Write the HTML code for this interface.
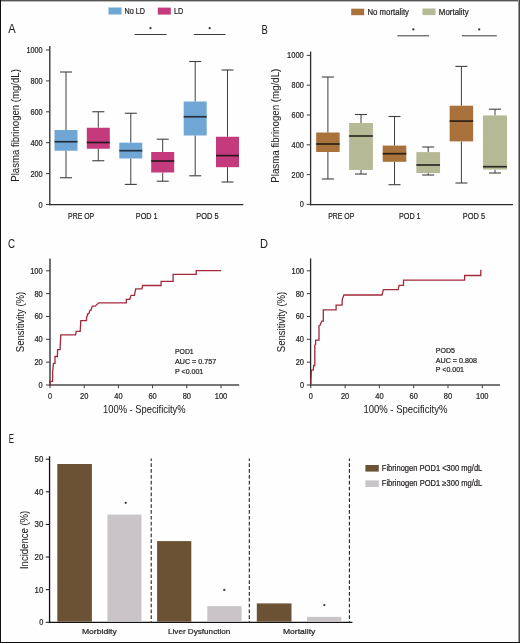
<!DOCTYPE html>
<html><head><meta charset="utf-8"><style>
html,body{margin:0;padding:0;background:#fff;}
body{width:520px;height:643px;overflow:hidden;position:relative;}
svg{position:absolute;left:0;top:0;display:block;will-change:transform;}
text{font-family:"Liberation Sans", sans-serif;stroke:#231f20;stroke-width:0.22px;}
</style></head><body>
<svg width="520" height="643" viewBox="0 0 520 643">
<rect x="0" y="0" width="520" height="643" fill="#fefefe"/>
<rect x="108.5" y="7.5" width="13" height="7" fill="#6fa6d4"/>
<text x="124.6" y="14.3" font-size="8.4" text-anchor="start" fill="#231f20" textLength="20.5" lengthAdjust="spacingAndGlyphs">No LD</text>
<rect x="157.8" y="7.6" width="13" height="7" fill="#c43a7d"/>
<text x="173.9" y="14.3" font-size="8.4" text-anchor="start" fill="#231f20" textLength="9.3" lengthAdjust="spacingAndGlyphs">LD</text>
<line x1="134.6" y1="34.5" x2="166.6" y2="34.5" stroke="#3a3a3a" stroke-width="1"/>
<circle cx="150.5" cy="28.2" r="1.15" fill="#3a3a3a"/>
<line x1="193.8" y1="34.5" x2="225.5" y2="34.5" stroke="#3a3a3a" stroke-width="1"/>
<circle cx="209.7" cy="28.2" r="1.15" fill="#3a3a3a"/>
<text x="8.2" y="33.3" font-size="12" text-anchor="start" fill="#231f20" textLength="7.4" lengthAdjust="spacingAndGlyphs" style="stroke-width:0.06px">A</text>
<line x1="49.8" y1="46" x2="49.8" y2="205.2" stroke="#2b2b2b" stroke-width="1.3"/>
<line x1="49.15" y1="204.6" x2="243.3" y2="204.6" stroke="#2b2b2b" stroke-width="1.3"/>
<line x1="46" y1="204.5" x2="50" y2="204.5" stroke="#3a3a3a" stroke-width="1"/>
<text x="42.6" y="207.5" font-size="8.4" text-anchor="end" fill="#231f20" textLength="4.1" lengthAdjust="spacingAndGlyphs">0</text>
<line x1="46" y1="173.6" x2="50" y2="173.6" stroke="#3a3a3a" stroke-width="1"/>
<text x="42.6" y="176.6" font-size="8.4" text-anchor="end" fill="#231f20" textLength="12.2" lengthAdjust="spacingAndGlyphs">200</text>
<line x1="46" y1="142.7" x2="50" y2="142.7" stroke="#3a3a3a" stroke-width="1"/>
<text x="42.6" y="145.7" font-size="8.4" text-anchor="end" fill="#231f20" textLength="12.2" lengthAdjust="spacingAndGlyphs">400</text>
<line x1="46" y1="111.80000000000001" x2="50" y2="111.80000000000001" stroke="#3a3a3a" stroke-width="1"/>
<text x="42.6" y="114.80000000000001" font-size="8.4" text-anchor="end" fill="#231f20" textLength="12.2" lengthAdjust="spacingAndGlyphs">600</text>
<line x1="46" y1="80.9" x2="50" y2="80.9" stroke="#3a3a3a" stroke-width="1"/>
<text x="42.6" y="83.9" font-size="8.4" text-anchor="end" fill="#231f20" textLength="12.2" lengthAdjust="spacingAndGlyphs">800</text>
<line x1="46" y1="50.0" x2="50" y2="50.0" stroke="#3a3a3a" stroke-width="1"/>
<text x="42.6" y="53.0" font-size="8.4" text-anchor="end" fill="#231f20" textLength="16.2" lengthAdjust="spacingAndGlyphs">1000</text>
<line x1="66.0" y1="72" x2="66.0" y2="130" stroke="#3f3f3f" stroke-width="1"/>
<line x1="66.0" y1="150.75" x2="66.0" y2="177.75" stroke="#3f3f3f" stroke-width="1"/>
<line x1="60.0" y1="72" x2="72.0" y2="72" stroke="#3f3f3f" stroke-width="1.1"/>
<line x1="60.0" y1="177.75" x2="72.0" y2="177.75" stroke="#3f3f3f" stroke-width="1.1"/>
<rect x="54.5" y="130" width="23" height="20.75" fill="#6fa6d4"/>
<line x1="54.5" y1="141.75" x2="77.5" y2="141.75" stroke="#25303c" stroke-width="1.7"/>
<line x1="98.3" y1="111.75" x2="98.3" y2="127.75" stroke="#3f3f3f" stroke-width="1"/>
<line x1="98.3" y1="148.75" x2="98.3" y2="160.75" stroke="#3f3f3f" stroke-width="1"/>
<line x1="92.3" y1="111.75" x2="104.3" y2="111.75" stroke="#3f3f3f" stroke-width="1.1"/>
<line x1="92.3" y1="160.75" x2="104.3" y2="160.75" stroke="#3f3f3f" stroke-width="1.1"/>
<rect x="86.8" y="127.75" width="23" height="21.0" fill="#c43a7d"/>
<line x1="86.8" y1="142.5" x2="109.8" y2="142.5" stroke="#2a1820" stroke-width="1.7"/>
<line x1="130.8" y1="113.25" x2="130.8" y2="142.65" stroke="#3f3f3f" stroke-width="1"/>
<line x1="130.8" y1="158.5" x2="130.8" y2="184.4" stroke="#3f3f3f" stroke-width="1"/>
<line x1="124.80000000000001" y1="113.25" x2="136.8" y2="113.25" stroke="#3f3f3f" stroke-width="1.1"/>
<line x1="124.80000000000001" y1="184.4" x2="136.8" y2="184.4" stroke="#3f3f3f" stroke-width="1.1"/>
<rect x="119.30000000000001" y="142.65" width="23" height="15.849999999999994" fill="#6fa6d4"/>
<line x1="119.30000000000001" y1="150.7" x2="142.3" y2="150.7" stroke="#25303c" stroke-width="1.7"/>
<line x1="162.7" y1="139.2" x2="162.7" y2="152" stroke="#3f3f3f" stroke-width="1"/>
<line x1="162.7" y1="172.5" x2="162.7" y2="181.2" stroke="#3f3f3f" stroke-width="1"/>
<line x1="156.7" y1="139.2" x2="168.7" y2="139.2" stroke="#3f3f3f" stroke-width="1.1"/>
<line x1="156.7" y1="181.2" x2="168.7" y2="181.2" stroke="#3f3f3f" stroke-width="1.1"/>
<rect x="151.2" y="152" width="23" height="20.5" fill="#c43a7d"/>
<line x1="151.2" y1="161" x2="174.2" y2="161" stroke="#2a1820" stroke-width="1.7"/>
<line x1="195.2" y1="61.5" x2="195.2" y2="101.5" stroke="#3f3f3f" stroke-width="1"/>
<line x1="195.2" y1="135.5" x2="195.2" y2="175.8" stroke="#3f3f3f" stroke-width="1"/>
<line x1="189.2" y1="61.5" x2="201.2" y2="61.5" stroke="#3f3f3f" stroke-width="1.1"/>
<line x1="189.2" y1="175.8" x2="201.2" y2="175.8" stroke="#3f3f3f" stroke-width="1.1"/>
<rect x="183.7" y="101.5" width="23" height="34.0" fill="#6fa6d4"/>
<line x1="183.7" y1="116.75" x2="206.7" y2="116.75" stroke="#25303c" stroke-width="1.7"/>
<line x1="227.5" y1="70" x2="227.5" y2="136.75" stroke="#3f3f3f" stroke-width="1"/>
<line x1="227.5" y1="167.2" x2="227.5" y2="182" stroke="#3f3f3f" stroke-width="1"/>
<line x1="221.5" y1="70" x2="233.5" y2="70" stroke="#3f3f3f" stroke-width="1.1"/>
<line x1="221.5" y1="182" x2="233.5" y2="182" stroke="#3f3f3f" stroke-width="1.1"/>
<rect x="216.0" y="136.75" width="23" height="30.44999999999999" fill="#c43a7d"/>
<line x1="216.0" y1="155.6" x2="239.0" y2="155.6" stroke="#2a1820" stroke-width="1.7"/>
<text x="81.1" y="219" font-size="8.2" text-anchor="middle" fill="#231f20" textLength="26" lengthAdjust="spacingAndGlyphs">PRE OP</text>
<text x="146.7" y="219" font-size="8.2" text-anchor="middle" fill="#231f20" textLength="21.7" lengthAdjust="spacingAndGlyphs">POD 1</text>
<text x="207.4" y="219" font-size="8.2" text-anchor="middle" fill="#231f20" textLength="22.2" lengthAdjust="spacingAndGlyphs">POD 5</text>
<text transform="translate(18.6,125.4) rotate(-90)" x="0" y="0" font-size="10.8" text-anchor="middle" fill="#231f20" textLength="112.6" lengthAdjust="spacingAndGlyphs" style="stroke-width:0.06px">Plasma fibrinogen (mg/dL)</text>
<rect x="351.2" y="8.7" width="13" height="6.5" fill="#a9713c"/>
<text x="367.5" y="14.5" font-size="8.4" text-anchor="start" fill="#231f20" textLength="41.5" lengthAdjust="spacingAndGlyphs">No mortality</text>
<rect x="422.5" y="8.5" width="13" height="6.6" fill="#b6b995"/>
<text x="438.8" y="14.5" font-size="8.4" text-anchor="start" fill="#231f20" textLength="30" lengthAdjust="spacingAndGlyphs">Mortality</text>
<line x1="397.3" y1="35.8" x2="429.0" y2="35.8" stroke="#3a3a3a" stroke-width="1"/>
<circle cx="413.4" cy="29.4" r="1.15" fill="#3a3a3a"/>
<line x1="461.8" y1="35.8" x2="496.8" y2="35.8" stroke="#3a3a3a" stroke-width="1"/>
<circle cx="479.2" cy="29.4" r="1.15" fill="#3a3a3a"/>
<text x="261.6" y="34.1" font-size="12" text-anchor="start" fill="#231f20" textLength="6.3" lengthAdjust="spacingAndGlyphs" style="stroke-width:0.06px">B</text>
<line x1="310.6" y1="51.5" x2="310.6" y2="205.3" stroke="#2b2b2b" stroke-width="1.3"/>
<line x1="309.95" y1="204.7" x2="512.9" y2="204.7" stroke="#2b2b2b" stroke-width="1.3"/>
<line x1="306.7" y1="204.4" x2="310.7" y2="204.4" stroke="#3a3a3a" stroke-width="1"/>
<text x="303.8" y="207.4" font-size="8.4" text-anchor="end" fill="#231f20" textLength="4.1" lengthAdjust="spacingAndGlyphs">0</text>
<line x1="306.7" y1="174.6" x2="310.7" y2="174.6" stroke="#3a3a3a" stroke-width="1"/>
<text x="303.8" y="177.6" font-size="8.4" text-anchor="end" fill="#231f20" textLength="12.2" lengthAdjust="spacingAndGlyphs">200</text>
<line x1="306.7" y1="144.8" x2="310.7" y2="144.8" stroke="#3a3a3a" stroke-width="1"/>
<text x="303.8" y="147.8" font-size="8.4" text-anchor="end" fill="#231f20" textLength="12.2" lengthAdjust="spacingAndGlyphs">400</text>
<line x1="306.7" y1="115.0" x2="310.7" y2="115.0" stroke="#3a3a3a" stroke-width="1"/>
<text x="303.8" y="118.0" font-size="8.4" text-anchor="end" fill="#231f20" textLength="12.2" lengthAdjust="spacingAndGlyphs">600</text>
<line x1="306.7" y1="85.2" x2="310.7" y2="85.2" stroke="#3a3a3a" stroke-width="1"/>
<text x="303.8" y="88.2" font-size="8.4" text-anchor="end" fill="#231f20" textLength="12.2" lengthAdjust="spacingAndGlyphs">800</text>
<line x1="306.7" y1="55.400000000000006" x2="310.7" y2="55.400000000000006" stroke="#3a3a3a" stroke-width="1"/>
<text x="303.8" y="58.400000000000006" font-size="8.4" text-anchor="end" fill="#231f20" textLength="16.7" lengthAdjust="spacingAndGlyphs">1000</text>
<line x1="327.9" y1="77" x2="327.9" y2="132.5" stroke="#3f3f3f" stroke-width="1"/>
<line x1="327.9" y1="152" x2="327.9" y2="179" stroke="#3f3f3f" stroke-width="1"/>
<line x1="321.9" y1="77" x2="333.9" y2="77" stroke="#3f3f3f" stroke-width="1.1"/>
<line x1="321.9" y1="179" x2="333.9" y2="179" stroke="#3f3f3f" stroke-width="1.1"/>
<rect x="316.15" y="132.5" width="23.5" height="19.5" fill="#a9713c"/>
<line x1="316.15" y1="144" x2="339.65" y2="144" stroke="#2c2016" stroke-width="1.7"/>
<line x1="361.0" y1="114.5" x2="361.0" y2="123" stroke="#3f3f3f" stroke-width="1"/>
<line x1="361.0" y1="170" x2="361.0" y2="174" stroke="#3f3f3f" stroke-width="1"/>
<line x1="355.0" y1="114.5" x2="367.0" y2="114.5" stroke="#3f3f3f" stroke-width="1.1"/>
<line x1="355.0" y1="174" x2="367.0" y2="174" stroke="#3f3f3f" stroke-width="1.1"/>
<rect x="349.1" y="123" width="23.8" height="47" fill="#b6b995"/>
<line x1="349.1" y1="136" x2="372.9" y2="136" stroke="#2a2a22" stroke-width="1.7"/>
<line x1="394.5" y1="116.5" x2="394.5" y2="145.6" stroke="#3f3f3f" stroke-width="1"/>
<line x1="394.5" y1="161.8" x2="394.5" y2="184.7" stroke="#3f3f3f" stroke-width="1"/>
<line x1="388.5" y1="116.5" x2="400.5" y2="116.5" stroke="#3f3f3f" stroke-width="1.1"/>
<line x1="388.5" y1="184.7" x2="400.5" y2="184.7" stroke="#3f3f3f" stroke-width="1.1"/>
<rect x="382.7" y="145.6" width="23.6" height="16.200000000000017" fill="#a9713c"/>
<line x1="382.7" y1="153.7" x2="406.3" y2="153.7" stroke="#2c2016" stroke-width="1.7"/>
<line x1="428.2" y1="147" x2="428.2" y2="152.1" stroke="#3f3f3f" stroke-width="1"/>
<line x1="428.2" y1="173.1" x2="428.2" y2="175" stroke="#3f3f3f" stroke-width="1"/>
<line x1="422.2" y1="147" x2="434.2" y2="147" stroke="#3f3f3f" stroke-width="1.1"/>
<line x1="422.2" y1="175" x2="434.2" y2="175" stroke="#3f3f3f" stroke-width="1.1"/>
<rect x="416.34999999999997" y="152.1" width="23.7" height="21.0" fill="#b6b995"/>
<line x1="416.34999999999997" y1="165" x2="440.05" y2="165" stroke="#2a2a22" stroke-width="1.7"/>
<line x1="461.4" y1="66.4" x2="461.4" y2="105.7" stroke="#3f3f3f" stroke-width="1"/>
<line x1="461.4" y1="141.4" x2="461.4" y2="183" stroke="#3f3f3f" stroke-width="1"/>
<line x1="455.4" y1="66.4" x2="467.4" y2="66.4" stroke="#3f3f3f" stroke-width="1.1"/>
<line x1="455.4" y1="183" x2="467.4" y2="183" stroke="#3f3f3f" stroke-width="1.1"/>
<rect x="449.65" y="105.7" width="23.5" height="35.7" fill="#a9713c"/>
<line x1="449.65" y1="121.1" x2="473.15" y2="121.1" stroke="#2c2016" stroke-width="1.7"/>
<line x1="495.0" y1="109.2" x2="495.0" y2="115.4" stroke="#3f3f3f" stroke-width="1"/>
<line x1="495.0" y1="169.6" x2="495.0" y2="173" stroke="#3f3f3f" stroke-width="1"/>
<line x1="489.0" y1="109.2" x2="501.0" y2="109.2" stroke="#3f3f3f" stroke-width="1.1"/>
<line x1="489.0" y1="173" x2="501.0" y2="173" stroke="#3f3f3f" stroke-width="1.1"/>
<rect x="483.0" y="115.4" width="24" height="54.19999999999999" fill="#b6b995"/>
<line x1="483.0" y1="166.7" x2="507.0" y2="166.7" stroke="#2a2a22" stroke-width="1.7"/>
<text x="341.25" y="219" font-size="8.2" text-anchor="middle" fill="#231f20" textLength="26" lengthAdjust="spacingAndGlyphs">PRE OP</text>
<text x="409.8" y="219" font-size="8.2" text-anchor="middle" fill="#231f20" textLength="21.7" lengthAdjust="spacingAndGlyphs">POD 1</text>
<text x="473.9" y="219" font-size="8.2" text-anchor="middle" fill="#231f20" textLength="22.2" lengthAdjust="spacingAndGlyphs">POD 5</text>
<text transform="translate(279.2,125.7) rotate(-90)" x="0" y="0" font-size="10.6" text-anchor="middle" fill="#231f20" textLength="114" lengthAdjust="spacingAndGlyphs" style="stroke-width:0.06px">Plasma fibrinogen (mg/dL)</text>
<text x="8.1" y="248.3" font-size="12" text-anchor="start" fill="#231f20" textLength="7.0" lengthAdjust="spacingAndGlyphs" style="stroke-width:0.06px">C</text>
<line x1="50" y1="258.5" x2="50" y2="385.6" stroke="#262626" stroke-width="1.3"/>
<line x1="49.35" y1="385.0" x2="239.2" y2="385.0" stroke="#4a4a4a" stroke-width="1.4"/>
<line x1="46" y1="385.0" x2="50" y2="385.0" stroke="#3a3a3a" stroke-width="1"/>
<text x="42.7" y="387.9" font-size="8.2" text-anchor="end" fill="#231f20" textLength="4.1" lengthAdjust="spacingAndGlyphs">0</text>
<line x1="46" y1="362.16" x2="50" y2="362.16" stroke="#3a3a3a" stroke-width="1"/>
<text x="42.7" y="365.06" font-size="8.2" text-anchor="end" fill="#231f20" textLength="8.3" lengthAdjust="spacingAndGlyphs">20</text>
<line x1="46" y1="339.32" x2="50" y2="339.32" stroke="#3a3a3a" stroke-width="1"/>
<text x="42.7" y="342.21999999999997" font-size="8.2" text-anchor="end" fill="#231f20" textLength="8.3" lengthAdjust="spacingAndGlyphs">40</text>
<line x1="46" y1="316.48" x2="50" y2="316.48" stroke="#3a3a3a" stroke-width="1"/>
<text x="42.7" y="319.38" font-size="8.2" text-anchor="end" fill="#231f20" textLength="8.3" lengthAdjust="spacingAndGlyphs">60</text>
<line x1="46" y1="293.64" x2="50" y2="293.64" stroke="#3a3a3a" stroke-width="1"/>
<text x="42.7" y="296.53999999999996" font-size="8.2" text-anchor="end" fill="#231f20" textLength="8.3" lengthAdjust="spacingAndGlyphs">80</text>
<line x1="46" y1="270.8" x2="50" y2="270.8" stroke="#3a3a3a" stroke-width="1"/>
<text x="42.7" y="273.7" font-size="8.2" text-anchor="end" fill="#231f20" textLength="12.5" lengthAdjust="spacingAndGlyphs">100</text>
<line x1="50.0" y1="385.0" x2="50.0" y2="388.2" stroke="#3a3a3a" stroke-width="1"/>
<text x="50.0" y="399.0" font-size="8.2" text-anchor="middle" fill="#231f20" textLength="4.1" lengthAdjust="spacingAndGlyphs">0</text>
<line x1="84.2" y1="385.0" x2="84.2" y2="388.2" stroke="#3a3a3a" stroke-width="1"/>
<text x="84.2" y="399.0" font-size="8.2" text-anchor="middle" fill="#231f20" textLength="8.3" lengthAdjust="spacingAndGlyphs">20</text>
<line x1="118.4" y1="385.0" x2="118.4" y2="388.2" stroke="#3a3a3a" stroke-width="1"/>
<text x="118.4" y="399.0" font-size="8.2" text-anchor="middle" fill="#231f20" textLength="8.3" lengthAdjust="spacingAndGlyphs">40</text>
<line x1="152.60000000000002" y1="385.0" x2="152.60000000000002" y2="388.2" stroke="#3a3a3a" stroke-width="1"/>
<text x="152.60000000000002" y="399.0" font-size="8.2" text-anchor="middle" fill="#231f20" textLength="8.3" lengthAdjust="spacingAndGlyphs">60</text>
<line x1="186.8" y1="385.0" x2="186.8" y2="388.2" stroke="#3a3a3a" stroke-width="1"/>
<text x="186.8" y="399.0" font-size="8.2" text-anchor="middle" fill="#231f20" textLength="8.3" lengthAdjust="spacingAndGlyphs">80</text>
<line x1="221.0" y1="385.0" x2="221.0" y2="388.2" stroke="#3a3a3a" stroke-width="1"/>
<text x="221.0" y="399.0" font-size="8.2" text-anchor="middle" fill="#231f20" textLength="12.5" lengthAdjust="spacingAndGlyphs">100</text>
<path d="M50.1,385 V381.4 H52.6 V371.9 L53.2,366.6 L53.4,363.4 H55 V356.5 H57.4 L57.6,349.6 H60.1 V347.5 L60.8,334.8 H75.6 L76.2,331.3 H80.2 L80.8,320.6 H86.5 V317.7 L87.9,313.7 H88.8 L90,310.2 H90.9 L92.3,306.2 H95.2 L98.7,302.9 H126.3 V299.3 H129.8 L131,295.3 H134.4 L135.7,288.9 H141.9 L142.6,285.5 H161.1 V281.3 H173.1 V274.4 H196.2 V270.6 H221.1" fill="none" stroke="#a3283a" stroke-width="1.3" stroke-linejoin="miter"/>
<text x="175" y="354.4" font-size="7.4" text-anchor="start" fill="#231f20" textLength="18.7" lengthAdjust="spacingAndGlyphs">POD1</text>
<text x="175" y="364.0" font-size="7.4" text-anchor="start" fill="#231f20" textLength="41.2" lengthAdjust="spacingAndGlyphs">AUC = 0.757</text>
<text x="175" y="373.7" font-size="7.4" text-anchor="start" fill="#231f20" textLength="28.3" lengthAdjust="spacingAndGlyphs">P &lt;0.001</text>
<text x="103.1" y="413.3" font-size="10.4" text-anchor="start" fill="#231f20" textLength="82.5" lengthAdjust="spacingAndGlyphs" style="stroke-width:0.06px">100% - Specificity%</text>
<text transform="translate(23.7,322.0) rotate(-90)" x="0" y="0" font-size="10.6" text-anchor="middle" fill="#231f20" textLength="60.4" lengthAdjust="spacingAndGlyphs" style="stroke-width:0.06px">Sensitivity (%)</text>
<text x="259.9" y="247.8" font-size="12" text-anchor="start" fill="#231f20" textLength="8.0" lengthAdjust="spacingAndGlyphs" style="stroke-width:0.06px">D</text>
<line x1="310.6" y1="258.5" x2="310.6" y2="385.6" stroke="#262626" stroke-width="1.3"/>
<line x1="309.95" y1="385.0" x2="500" y2="385.0" stroke="#4a4a4a" stroke-width="1.4"/>
<line x1="306.8" y1="385.0" x2="310.8" y2="385.0" stroke="#3a3a3a" stroke-width="1"/>
<text x="304" y="387.9" font-size="8.2" text-anchor="end" fill="#231f20" textLength="4.1" lengthAdjust="spacingAndGlyphs">0</text>
<line x1="306.8" y1="362.16" x2="310.8" y2="362.16" stroke="#3a3a3a" stroke-width="1"/>
<text x="304" y="365.06" font-size="8.2" text-anchor="end" fill="#231f20" textLength="8.3" lengthAdjust="spacingAndGlyphs">20</text>
<line x1="306.8" y1="339.32" x2="310.8" y2="339.32" stroke="#3a3a3a" stroke-width="1"/>
<text x="304" y="342.21999999999997" font-size="8.2" text-anchor="end" fill="#231f20" textLength="8.3" lengthAdjust="spacingAndGlyphs">40</text>
<line x1="306.8" y1="316.48" x2="310.8" y2="316.48" stroke="#3a3a3a" stroke-width="1"/>
<text x="304" y="319.38" font-size="8.2" text-anchor="end" fill="#231f20" textLength="8.3" lengthAdjust="spacingAndGlyphs">60</text>
<line x1="306.8" y1="293.64" x2="310.8" y2="293.64" stroke="#3a3a3a" stroke-width="1"/>
<text x="304" y="296.53999999999996" font-size="8.2" text-anchor="end" fill="#231f20" textLength="8.3" lengthAdjust="spacingAndGlyphs">80</text>
<line x1="306.8" y1="270.8" x2="310.8" y2="270.8" stroke="#3a3a3a" stroke-width="1"/>
<text x="304" y="273.7" font-size="8.2" text-anchor="end" fill="#231f20" textLength="12.5" lengthAdjust="spacingAndGlyphs">100</text>
<line x1="310.8" y1="385.0" x2="310.8" y2="388.2" stroke="#3a3a3a" stroke-width="1"/>
<text x="310.8" y="399.0" font-size="8.2" text-anchor="middle" fill="#231f20" textLength="4.1" lengthAdjust="spacingAndGlyphs">0</text>
<line x1="345.1" y1="385.0" x2="345.1" y2="388.2" stroke="#3a3a3a" stroke-width="1"/>
<text x="345.1" y="399.0" font-size="8.2" text-anchor="middle" fill="#231f20" textLength="8.3" lengthAdjust="spacingAndGlyphs">20</text>
<line x1="379.4" y1="385.0" x2="379.4" y2="388.2" stroke="#3a3a3a" stroke-width="1"/>
<text x="379.4" y="399.0" font-size="8.2" text-anchor="middle" fill="#231f20" textLength="8.3" lengthAdjust="spacingAndGlyphs">40</text>
<line x1="413.7" y1="385.0" x2="413.7" y2="388.2" stroke="#3a3a3a" stroke-width="1"/>
<text x="413.7" y="399.0" font-size="8.2" text-anchor="middle" fill="#231f20" textLength="8.3" lengthAdjust="spacingAndGlyphs">60</text>
<line x1="448.0" y1="385.0" x2="448.0" y2="388.2" stroke="#3a3a3a" stroke-width="1"/>
<text x="448.0" y="399.0" font-size="8.2" text-anchor="middle" fill="#231f20" textLength="8.3" lengthAdjust="spacingAndGlyphs">80</text>
<line x1="482.3" y1="385.0" x2="482.3" y2="388.2" stroke="#3a3a3a" stroke-width="1"/>
<text x="482.3" y="399.0" font-size="8.2" text-anchor="middle" fill="#231f20" textLength="12.5" lengthAdjust="spacingAndGlyphs">100</text>
<path d="M310.9,384 L310.9,381 L311.4,370.2 L313.2,370.2 L313.7,365.5 L314.8,365.5 L314.8,345.3 L315.6,344.5 L315.6,340.1 L319,340.1 L319,325.8 L320.2,325 L321.8,321.1 L323.3,321.1 L323.3,309.9 L336.1,309.9 L336.1,305.1 L342,305.1 L342.3,299.3 L343.9,295 L382,295 L383.4,289.7 L398.2,289.7 L399.1,285.4 L403.5,285.4 L403.5,280.1 L464.6,280.1 L464.6,275.5 L480.8,275.5 L480.8,269.7" fill="none" stroke="#a3283a" stroke-width="1.3"/>
<text x="435.8" y="353.1" font-size="7.4" text-anchor="start" fill="#231f20" textLength="19.2" lengthAdjust="spacingAndGlyphs">POD5</text>
<text x="435.8" y="362.7" font-size="7.4" text-anchor="start" fill="#231f20" textLength="41.1" lengthAdjust="spacingAndGlyphs">AUC = 0.808</text>
<text x="435.8" y="372.3" font-size="7.4" text-anchor="start" fill="#231f20" textLength="28.2" lengthAdjust="spacingAndGlyphs">P &lt;0.001</text>
<text x="363.4" y="413.0" font-size="10.4" text-anchor="start" fill="#231f20" textLength="84" lengthAdjust="spacingAndGlyphs" style="stroke-width:0.06px">100% - Specificity%</text>
<text transform="translate(284.7,322.0) rotate(-90)" x="0" y="0" font-size="10.6" text-anchor="middle" fill="#231f20" textLength="60.4" lengthAdjust="spacingAndGlyphs" style="stroke-width:0.06px">Sensitivity (%)</text>
<text x="8.7" y="442.7" font-size="12" text-anchor="start" fill="#231f20" textLength="5.2" lengthAdjust="spacingAndGlyphs" style="stroke-width:0.06px">E</text>
<line x1="49.55" y1="456.2" x2="49.55" y2="622.9" stroke="#111" stroke-width="1.3"/>
<line x1="48.9" y1="622.3" x2="352.4" y2="622.3" stroke="#111" stroke-width="1.3"/>
<line x1="45.8" y1="622.3" x2="49.6" y2="622.3" stroke="#111" stroke-width="1"/>
<text x="43.4" y="625.3" font-size="8.4" text-anchor="end" fill="#231f20" textLength="4.1" lengthAdjust="spacingAndGlyphs">0</text>
<line x1="45.8" y1="589.68" x2="49.6" y2="589.68" stroke="#111" stroke-width="1"/>
<text x="43.4" y="592.68" font-size="8.4" text-anchor="end" fill="#231f20" textLength="8.8" lengthAdjust="spacingAndGlyphs">10</text>
<line x1="45.8" y1="557.06" x2="49.6" y2="557.06" stroke="#111" stroke-width="1"/>
<text x="43.4" y="560.06" font-size="8.4" text-anchor="end" fill="#231f20" textLength="8.8" lengthAdjust="spacingAndGlyphs">20</text>
<line x1="45.8" y1="524.4399999999999" x2="49.6" y2="524.4399999999999" stroke="#111" stroke-width="1"/>
<text x="43.4" y="527.4399999999999" font-size="8.4" text-anchor="end" fill="#231f20" textLength="8.8" lengthAdjust="spacingAndGlyphs">30</text>
<line x1="45.8" y1="491.81999999999994" x2="49.6" y2="491.81999999999994" stroke="#111" stroke-width="1"/>
<text x="43.4" y="494.81999999999994" font-size="8.4" text-anchor="end" fill="#231f20" textLength="8.8" lengthAdjust="spacingAndGlyphs">40</text>
<line x1="45.8" y1="459.19999999999993" x2="49.6" y2="459.19999999999993" stroke="#111" stroke-width="1"/>
<text x="43.4" y="462.19999999999993" font-size="8.4" text-anchor="end" fill="#231f20" textLength="8.8" lengthAdjust="spacingAndGlyphs">50</text>
<rect x="57.3" y="464.0" width="34.6" height="157.70000000000005" fill="#6b5235"/>
<rect x="107.4" y="514.6" width="34.1" height="107.10000000000002" fill="#c9c4c7"/>
<rect x="157.1" y="541.1" width="34.2" height="80.60000000000002" fill="#6b5235"/>
<rect x="207.3" y="606.2" width="34.3" height="15.5" fill="#c9c4c7"/>
<rect x="256.8" y="603.4" width="34.7" height="18.300000000000068" fill="#6b5235"/>
<rect x="307.0" y="616.9" width="34.3" height="4.800000000000068" fill="#c9c4c7"/>
<circle cx="125.7" cy="502.8" r="1.15" fill="#3a3a3a"/>
<circle cx="224.3" cy="589.9" r="1.15" fill="#3a3a3a"/>
<circle cx="324.3" cy="605.1" r="1.15" fill="#3a3a3a"/>
<line x1="151.2" y1="458.4" x2="151.2" y2="622" stroke="#222" stroke-width="1.1" stroke-dasharray="3.7,2.15" stroke-dashoffset="1"/>
<line x1="249.3" y1="458.4" x2="249.3" y2="622" stroke="#222" stroke-width="1.1" stroke-dasharray="3.7,2.15" stroke-dashoffset="1"/>
<line x1="349.4" y1="458.4" x2="349.4" y2="622" stroke="#222" stroke-width="1.1" stroke-dasharray="3.7,2.15" stroke-dashoffset="1"/>
<text x="99.35" y="633.7" font-size="8.1" text-anchor="middle" fill="#231f20" textLength="34.9" lengthAdjust="spacingAndGlyphs">Morbidity</text>
<text x="199.15" y="633.6" font-size="8.1" text-anchor="middle" fill="#231f20" textLength="62.3" lengthAdjust="spacingAndGlyphs">Liver Dysfunction</text>
<text x="299.15" y="633.7" font-size="8.1" text-anchor="middle" fill="#231f20" textLength="32.3" lengthAdjust="spacingAndGlyphs">Mortality</text>
<text transform="translate(28.1,539.9) rotate(-90)" x="0" y="0" font-size="10.5" text-anchor="middle" fill="#231f20" textLength="58.3" lengthAdjust="spacingAndGlyphs" style="stroke-width:0.06px">Incidence (%)</text>
<rect x="365.4" y="465" width="13.4" height="6.6" fill="#6b5235"/>
<text x="381.8" y="471.0" font-size="8.4" text-anchor="start" fill="#231f20" textLength="100.5" lengthAdjust="spacingAndGlyphs">Fibrinogen POD1 &lt;300 mg/dL</text>
<rect x="365.4" y="480.4" width="13.4" height="6.6" fill="#c9c4c7"/>
<text x="381.8" y="486.2" font-size="8.4" text-anchor="start" fill="#231f20" textLength="100.5" lengthAdjust="spacingAndGlyphs">Fibrinogen POD1 ≥300 mg/dL</text>
<rect x="0" y="0" width="520" height="1" fill="#555"/>
<rect x="0" y="1" width="520" height="1" fill="#bbb"/>
<rect x="0" y="0" width="1" height="643" fill="#111"/>
<rect x="518" y="0" width="1" height="643" fill="#9a9a9a"/>
<rect x="519" y="0" width="1" height="643" fill="#444"/>
<rect x="0" y="642" width="520" height="1" fill="#111"/>
</svg>
</body></html>
